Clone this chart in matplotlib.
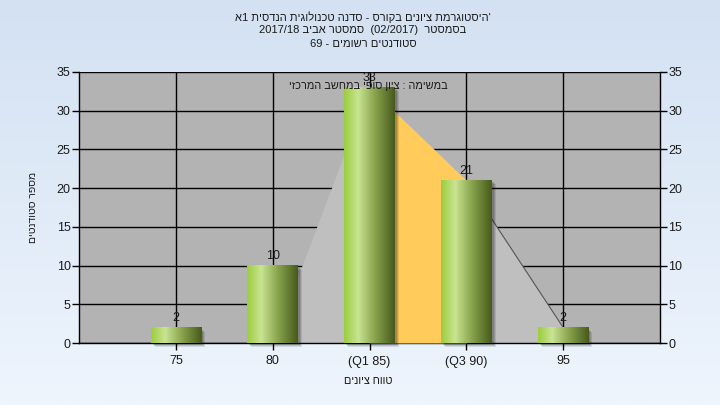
import numpy as np
import matplotlib
matplotlib.use("Agg")
import matplotlib.pyplot as plt
from matplotlib.colors import LinearSegmentedColormap
from matplotlib.patches import Rectangle

plt.rcParams['font.family'] = ['Liberation Sans', 'DejaVu Sans']

# ---------------- data ----------------
categories = ['75', '80', '(Q1 85)', '(Q3 90)', '95']
counts = [2, 10, 33, 21, 2]
area_values = [0, 0, 33, 21, 2]
quartile_span = [2, 3]
y_ticks = [0, 5, 10, 15, 20, 25, 30, 35]
title_lines = ["היסטוגרמת ציונים בקורס - סדנה טכנולוגית הנדסית 1א'",
               "בסמסטר  (02/2017)  סמסטר אביב 2017/18",
               "סטודנטים רשומים - 69"]
legend_label = "במשימה : ציון סופי במחשב המרכזי"
x_label = "טווח ציונים"
y_label = "מספר סטודנטים"


def visual(s):
    """Minimal bidi reordering with a left-to-right base direction."""
    def cls(c):
        if '\u0590' <= c <= '\u05FF':
            return 'R'
        if c.isdigit():
            return 'EN'
        if c.isalpha():
            return 'L'
        if c in '/.,:':
            return 'CS'
        return 'ON'
    n = len(s)
    types = [cls(c) for c in s]
    for i in range(1, n - 1):
        if types[i] == 'CS' and types[i - 1] == 'EN' and types[i + 1] == 'EN':
            types[i] = 'EN'
    last = 'L'
    for i, t in enumerate(types):
        if t in ('L', 'R'):
            last = t
        elif t == 'EN' and last == 'L':
            types[i] = 'L'
    res = types[:]
    i = 0
    while i < n:
        if types[i] in ('CS', 'ON'):
            j = i
            while j < n and types[j] in ('CS', 'ON'):
                j += 1
            prev = 'L' if i == 0 else ('R' if types[i - 1] in ('R', 'EN') else 'L')
            nxt = 'L' if j == n else ('R' if types[j] in ('R', 'EN') else 'L')
            d = prev if prev == nxt else 'L'
            for k in range(i, j):
                res[k] = d
            i = j
        else:
            i += 1
    levels = [0 if t == 'L' else (1 if t == 'R' else 2) for t in res]
    idx = list(range(n))
    for lev in range(max(levels) if levels else 0, 0, -1):
        i = 0
        while i < n:
            if levels[idx[i]] >= lev:
                j = i
                while j < n and levels[idx[j]] >= lev:
                    j += 1
                idx[i:j] = idx[i:j][::-1]
                i = j
            else:
                i += 1
    mirror = {'(': ')', ')': '(', '[': ']', ']': '['}
    return ''.join(mirror.get(s[k], s[k]) if levels[k] % 2 else s[k] for k in idx)


W, H = 720, 405
fig = plt.figure(figsize=(W / 100, H / 100), dpi=100)

# figure background gradient
bg = fig.add_axes([0, 0, 1, 1], zorder=-10)
grad = np.linspace(0, 1, 256)[:, None]
bg_cmap = LinearSegmentedColormap.from_list('bg', ['#d3e1f2', '#eef5fd'])
bg.imshow(grad, aspect='auto', cmap=bg_cmap, extent=[0, 1, 0, 1], origin='upper')
bg.set_axis_off()

left, right, top, bottom = 79, 660, 72, 343
ax = fig.add_axes([left / W, 1 - bottom / H, (right - left) / W, (bottom - top) / H])
ax.set_facecolor('#b3b3b3')
x = np.arange(len(categories))

# grid
for yv in y_ticks:
    ax.axhline(yv, color='black', lw=1.0, zorder=1)
for xv in x:
    ax.axvline(xv, color='black', lw=1.0, zorder=1)

# area series
ax.fill_between(x, 0, area_values, color='#bfbfbf', lw=0, zorder=2)
qx = np.array(quartile_span)
ax.fill_between(qx, 0, [area_values[q] for q in quartile_span], color='#ffcc5c', lw=0, zorder=3)
ax.plot(x[:2], area_values[:2], color='#8a8a8a', lw=0.8, zorder=3)
ax.plot(x[3:], area_values[3:], color='#555555', lw=0.8, zorder=3)

# bars with gradient
bar_w = 0.52
bar_cmap = LinearSegmentedColormap.from_list(
    'bar', [(0.0, '#9ccd3e'), (0.28, '#c9e492'), (0.6, '#8aa54e'), (1.0, '#465a1b')])
gimg = np.linspace(0, 1, 256)[None, :]
px_x = (right - left) / (len(categories) + 1)
px_y = (bottom - top) / 35.0
for xi, c in zip(x, counts):
    x0 = xi - bar_w / 2
    for k, a in enumerate([0.10, 0.12, 0.15]):
        off = (4 - k)
        ax.add_patch(Rectangle((x0 + off / px_x, -off / px_y), bar_w, c,
                               facecolor='black', alpha=a, lw=0, zorder=4, clip_on=False))
    ax.imshow(gimg, cmap=bar_cmap, aspect='auto', extent=[x0, x0 + bar_w, 0, c],
              zorder=5, interpolation='bilinear')
    ax.text(xi, c + 0.4, str(c), ha='center', va='bottom', fontsize=9, color='#1a1a1a', zorder=7)
ax.set_xlim(-1, len(categories))
ax.set_ylim(0, 35)

# spines & ticks
for s in ['left', 'right', 'bottom']:
    ax.spines[s].set_color('black')
    ax.spines[s].set_linewidth(1.0)
ax.spines['top'].set_visible(False)
ax.set_yticks(y_ticks)
ax.set_xticks(x)
ax.set_xticklabels(categories)
ax.tick_params(axis='y', which='both', left=True, right=True, labelleft=True, labelright=True,
               direction='out', length=5, width=1, labelsize=9, labelcolor='#1a1a1a', pad=1)
ax.tick_params(axis='x', direction='out', length=5, width=1, labelsize=9, labelcolor='#1a1a1a', pad=4)

# texts
ax.text((368.5 - left) / (right - left), 1 - (86 - top) / (bottom - top), visual(legend_label),
        transform=ax.transAxes, ha='center', va='center', fontsize=7.8, color='#1a1a1a', zorder=9)
fig.text(368 / W, 1 - 381 / H, visual(x_label), ha='center', va='center', fontsize=7.8, color='#1a1a1a')
fig.text(33 / W, 1 - 207 / H, visual(y_label), ha='center', va='center', rotation=90,
         fontsize=7.5, color='#1a1a1a')
for yy, line in zip([17, 30, 44], title_lines):
    fig.text(363 / W, 1 - yy / H, visual(line), ha='center', va='center', fontsize=8.0, color='#1a1a1a')

fig.savefig('out.png', dpi=100)
